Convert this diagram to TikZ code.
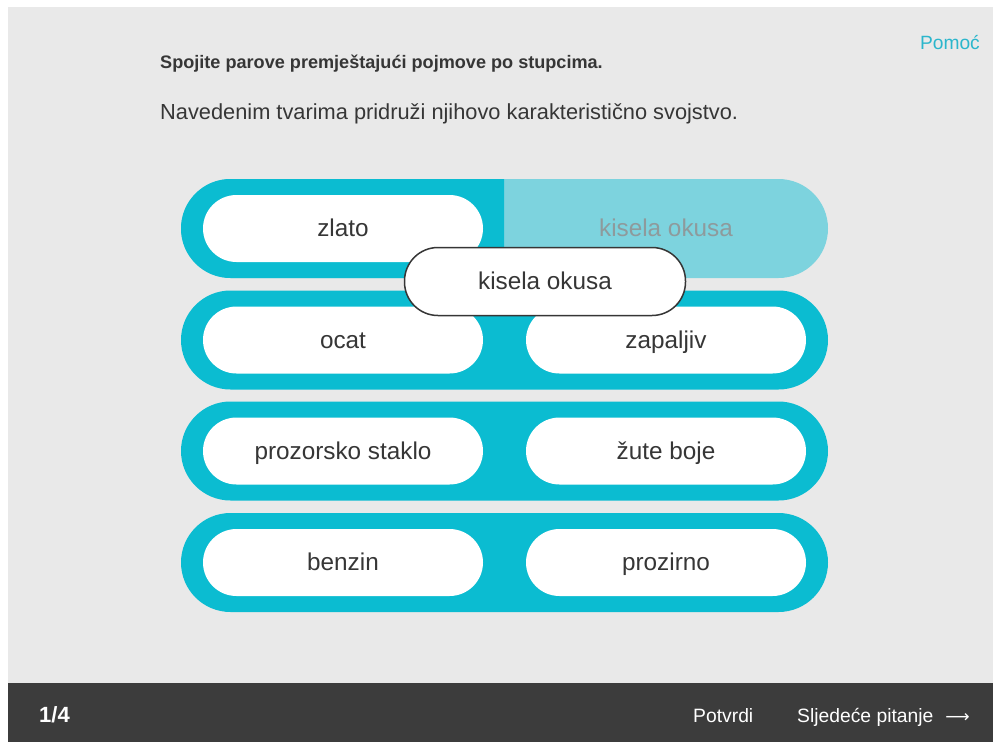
\documentclass[tikz,border=0pt]{standalone}
\usepackage{fontspec}
\setmainfont{Liberation Sans}
\newfontfamily\arrowfont{DejaVu Sans}
\definecolor{pagebg}{HTML}{E9E9E9}
\definecolor{barbg}{HTML}{3C3C3C}
\definecolor{rowcyan}{HTML}{0BBCD1}
\definecolor{rowlight}{HTML}{7DD3DE}
\definecolor{txt}{HTML}{363636}
\definecolor{ghost}{HTML}{8E9A9C}
\definecolor{helpcyan}{HTML}{2BB6CC}
\tikzset{
  rowpill/.style={fill=rowcyan, draw=none, rounded corners=49.5pt, minimum width=647pt, minimum height=99pt, inner sep=0pt},
  itempill/.style={fill=white, draw=none, rounded corners=33.5pt, minimum width=280pt, minimum height=67pt, inner sep=0pt, text=txt, font=\fontsize{24.3}{28}\selectfont, text height=18pt, text depth=2pt},
  dragpill/.style={itempill, draw=txt, line width=1.5pt, minimum width=281pt, minimum height=68pt},
  ghosttext/.style={text=ghost, font=\fontsize{24.3}{28}\selectfont, inner sep=0pt, text height=18pt, text depth=2pt},
  foot/.style={text=white, font=\fontsize{19.3}{22}\selectfont, inner sep=0pt, anchor=base west},
}
\begin{document}
\begin{tikzpicture}[x=1pt,y=-1pt]
\useasboundingbox (0,0) rectangle (993,742);
\fill[white] (0,0) rectangle (993,742);
\fill[pagebg] (8,7) rectangle (993,683);
\fill[barbg] (8,683) rectangle (993,742);

% header texts
\node[anchor=base west, inner sep=0pt, text=txt, font=\fontsize{18.1}{21}\selectfont\bfseries] (title) at (160,68) {Spojite parove premještajući pojmove po stupcima.};
\node[anchor=base west, inner sep=0pt, text=txt, font=\fontsize{21.8}{26}\selectfont] (instr) at (160,119) {Navedenim tvarima pridruži njihovo karakteristično svojstvo.};
\node[anchor=base east, inner sep=0pt, text=helpcyan, font=\fontsize{19.2}{22}\selectfont] (help) at (980,49) {Pomoć};

% row 1 (light right half)
\node[rowpill, fill=rowlight] (row1) at (504.5,228.5) {};
\begin{scope}
\clip (170,170) rectangle (504,290);
\node[rowpill] (row1left) at (504.5,228.5) {};
\end{scope}
\node[rowpill] (row2) at (504.5,340) {};
\node[rowpill] (row3) at (504.5,451) {};
\node[rowpill] (row4) at (504.5,562.5) {};

\node[itempill] (zlato) at (343,228.5) {zlato};
\node[ghosttext] (ghost) at (666,228.5) {kisela okusa};

\node[itempill] (ocat) at (343,340) {ocat};
\node[itempill] (zapaljiv) at (666,340) {zapaljiv};
\node[itempill] (staklo) at (343,451) {prozorsko staklo};
\node[itempill] (zute) at (666,451) {žute boje};
\node[itempill] (benzin) at (343,562.5) {benzin};
\node[itempill] (prozirno) at (666,562.5) {prozirno};

% dragged item
\node[dragpill] (drag) at (545,281.5) {kisela okusa};

% footer
\node[foot, font=\fontsize{22}{24}\selectfont\bfseries] (count) at (39,722) {1/4};
\node[foot] (potvrdi) at (693,722) {Potvrdi};
\node[foot] (next) at (797,722) {Sljedeće pitanje\hspace{12pt}{\arrowfont\fontsize{17}{20}\selectfont ⟶}};
\end{tikzpicture}
\end{document}
